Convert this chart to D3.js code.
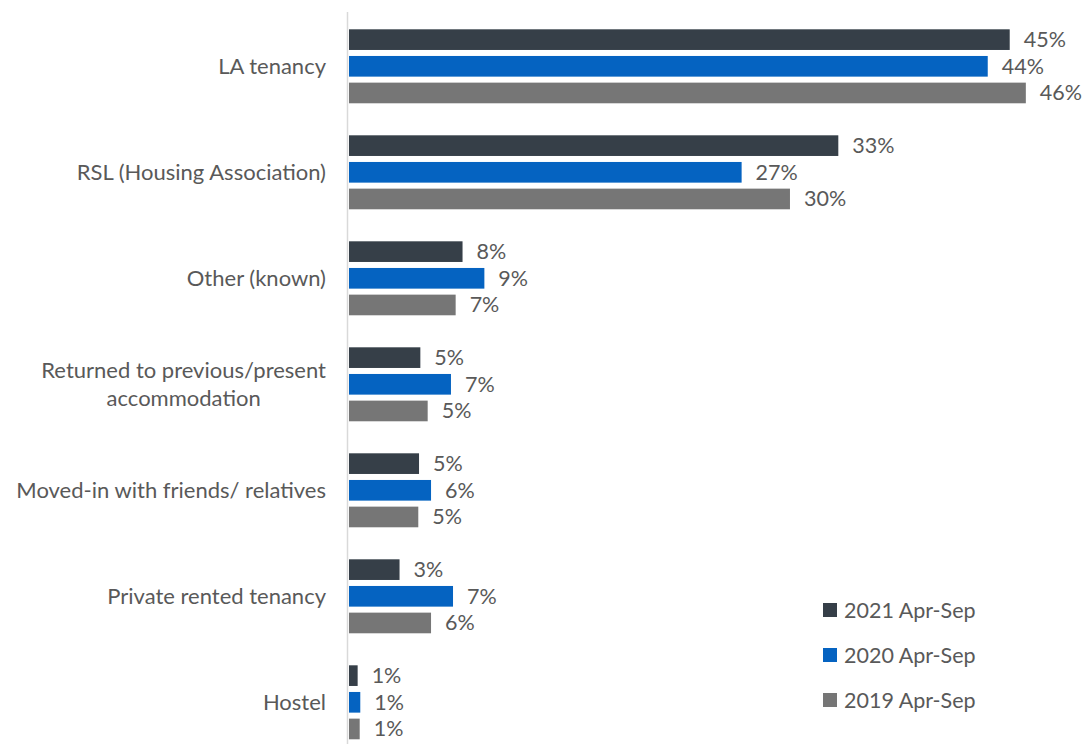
<!DOCTYPE html>
<html>
<head>
<meta charset="utf-8">
<script src="https://cdn.jsdelivr.net/npm/d3@7"></script>
<style>
  body { margin: 0; background: #fff; }
  text { font-family: Lato, "Open Sans", sans-serif; fill: #595959; }
</style>
</head>
<body>
<div id="chart"></div>
<script>
// categories, top to bottom
var categories = ["LA tenancy", "RSL (Housing Association)", "Other (known)",
    "Returned to previous/present accommodation", "Moved-in with friends/ relatives",
    "Private rented tenancy", "Hostel"]
var seriesNames = ["2021 Apr-Sep", "2020 Apr-Sep", "2019 Apr-Sep"]
// percent values
var v2021 = [45.1, 33.4, 7.75, 4.87, 4.78, 3.45, 0.59]
var v2020 = [43.6, 26.8, 9.24, 6.96, 5.6, 7.1, 0.77]
var v2019 = [46.2, 30.1, 7.28, 5.37, 4.73, 5.6, 0.73]
// two-line label split
var labelLines = { "Returned to previous/present accommodation": ["Returned to previous/present", "accommodation"] }

var colors = ["#363f48", "#0563c1", "#767676"]

var width = 1091, height = 744
var svg = d3.select("#chart").append("svg")
    .attr("width", width)
    .attr("height", height)

var data = categories.map(function(c, i) {
    return { cat: c, values: [
        { s: seriesNames[0], v: v2021[i] },
        { s: seriesNames[1], v: v2020[i] },
        { s: seriesNames[2], v: v2019[i] }
    ]}
})

var x = d3.scaleLinear().domain([0, 46]).range([349, 349 + 46 * 14.65])

var y0 = d3.scaleBand()
    .domain(categories)
    .range([13.3, 13.3 + 7 * 106])
    .paddingInner(0.302)
    .paddingOuter(0.151)

var y1 = d3.scaleBand()
    .domain(seriesNames)
    .range([0, y0.bandwidth()])
    .paddingInner(0.225)

var color = d3.scaleOrdinal().domain(seriesNames).range(colors)

// axis line
svg.append("line")
    .attr("x1", 347.5).attr("x2", 347.5)
    .attr("y1", 12).attr("y2", height)
    .attr("stroke", "#d9d9d9")
    .attr("stroke-width", 1.5)

var group = svg.selectAll(".grp")
    .data(data)
    .enter().append("g")
    .attr("class", "grp")
    .attr("transform", function(d) { return "translate(0," + y0(d.cat) + ")" })

group.selectAll("rect")
    .data(function(d) { return d.values })
    .join("rect")
        .attr("x", x(0))
        .attr("y", function(d) { return y1(d.s) })
        .attr("width", function(d) { return x(d.v) - x(0) })
        .attr("height", y1.bandwidth())
        .attr("fill", function(d) { return color(d.s) })

group.selectAll(".val")
    .data(function(d) { return d.values })
    .join("text")
        .attr("class", "val")
        .attr("x", function(d) { return x(d.v) + 14 })
        .attr("y", function(d) { return y1(d.s) + y1.bandwidth() / 2 })
        .attr("dy", "0.35em")
        .style("font-size", "21.5px")
        .text(function(d) { return Math.round(d.v) + "%" })

// category labels
var lab = svg.selectAll(".cat")
    .data(categories)
    .enter().append("text")
    .attr("class", "cat")
    .style("font-size", "22px")
    .attr("y", function(d) { return y0(d) + y0.bandwidth() / 2 })

lab.each(function(d) {
    var t = d3.select(this)
    var lines = labelLines[d]
    if (lines) {
        t.attr("text-anchor", "end").attr("x", 326)
        t.append("tspan").attr("x", 326).attr("dy", "-0.3em").text(lines[0])
        var w = t.node().getComputedTextLength()
        t.append("tspan").attr("x", 326 - w / 2).attr("text-anchor", "middle")
            .attr("dy", "1.27em").text(lines[1])
    } else {
        t.attr("text-anchor", "end").attr("x", 326).attr("dy", "0.35em").text(d)
    }
})

// legend
var legend = svg.selectAll(".legend")
    .data(seriesNames)
    .enter().append("g")
    .attr("class", "legend")
    .attr("transform", function(d, i) { return "translate(823," + (610 + i * 45) + ")" })

legend.append("rect")
    .attr("x", 0).attr("y", -7)
    .attr("width", 14).attr("height", 14)
    .attr("fill", function(d) { return color(d) })

legend.append("text")
    .attr("x", 21)
    .attr("dy", "0.35em")
    .style("font-size", "21.5px")
    .text(function(d) { return d })
</script>
</body>
</html>
